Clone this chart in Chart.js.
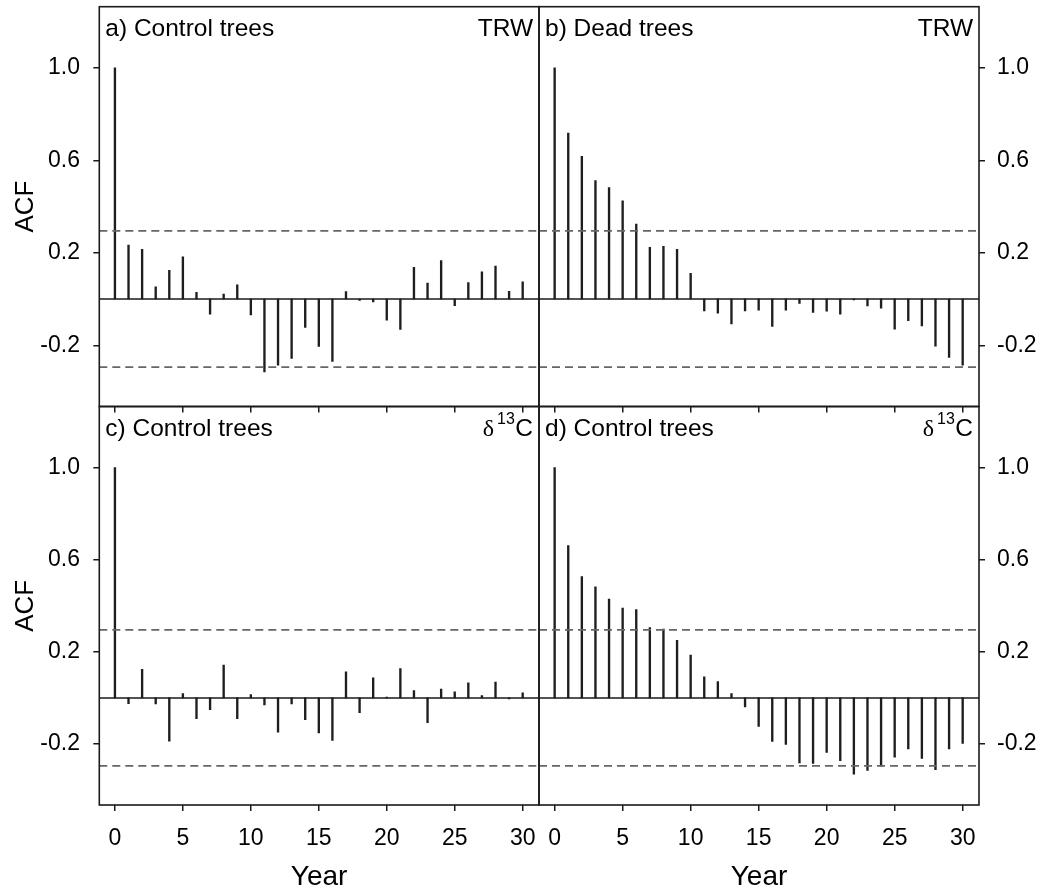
<!DOCTYPE html>
<html>
<head>
<meta charset="utf-8">
<title>ACF of TRW and d13C</title>
<script src="https://cdn.jsdelivr.net/npm/chart.js@4.4.1/dist/chart.umd.min.js"></script>
<style>
    html, body { margin: 0; padding: 0; background: #fff; }
    #wrap { position: relative; width: 1046px; height: 896px; overflow: hidden; }
    #wrap canvas { position: absolute; }
</style>
</head>
<body>
<div id="wrap">
    <canvas id="panel-a" width="545" height="420" style="left:0;top:0"></canvas>
    <canvas id="panel-b" width="511" height="420" style="left:535px;top:0"></canvas>
    <canvas id="panel-c" width="545" height="496" style="left:0;top:400px"></canvas>
    <canvas id="panel-d" width="511" height="496" style="left:535px;top:400px"></canvas>
</div>
<script>
(function() {
    'use strict';

    var lags = [0, 1, 2, 3, 4, 5, 6, 7, 8, 9, 10, 11, 12, 13, 14, 15,
                16, 17, 18, 19, 20, 21, 22, 23, 24, 25, 26, 27, 28, 29, 30];

    var acfControlTrw = [1.0, 0.234, 0.215, 0.053, 0.124, 0.183, 0.029, -0.065, 0.022, 0.061, -0.069,
                         -0.315, -0.286, -0.257, -0.123, -0.205, -0.270, 0.032, -0.006, -0.012, -0.091,
                         -0.131, 0.137, 0.069, 0.166, -0.029, 0.071, 0.118, 0.143, 0.033, 0.074];

    var acfDeadTrw = [1.0, 0.718, 0.618, 0.513, 0.482, 0.425, 0.324, 0.224, 0.228, 0.215, 0.111,
                      -0.051, -0.061, -0.108, -0.051, -0.048, -0.118, -0.048, -0.019, -0.058, -0.052,
                      -0.065, -0.004, -0.030, -0.039, -0.130, -0.094, -0.116, -0.204, -0.253, -0.286];

    var acfControlD13c = [1.0, -0.025, 0.124, -0.026, -0.188, 0.019, -0.090, -0.051, 0.142, -0.090, 0.014,
                          -0.030, -0.149, -0.026, -0.095, -0.152, -0.185, 0.113, -0.064, 0.087, 0.003,
                          0.127, 0.032, -0.108, 0.038, 0.026, 0.065, 0.010, 0.069, -0.004, 0.022];

    var acfControlD13cD = [1.0, 0.661, 0.527, 0.482, 0.429, 0.390, 0.383, 0.305, 0.299, 0.250, 0.186,
                           0.091, 0.071, 0.019, -0.039, -0.124, -0.189, -0.202, -0.282, -0.285, -0.237,
                           -0.273, -0.331, -0.315, -0.296, -0.257, -0.221, -0.263, -0.312, -0.221, -0.198];

    // 95% confidence limits
    var confLimits = [0.295, -0.295];

    var yTickValues = [-0.2, 0.2, 0.6, 1.0];
    var xTickValues = [0, 5, 10, 15, 20, 25, 30];

    var X_MIN = -1.15, X_MAX = 31.2;
    var Y_MIN = -0.465, Y_MAX = 1.265;

    var FONT = "'Liberation Sans', Arial, sans-serif";
    var INK = '#1a1a1a';

    // frame around the plot area plus the two captions in the top corners
    var panelDecor = {
        id: 'panelDecor',
        afterDatasetsDraw: function(chart, args, opts) {
            var a = chart.chartArea;
            var ctx = chart.ctx;
            var base = a.top + 29.5;
            var x;

            ctx.save();
            ctx.strokeStyle = INK;
            ctx.lineWidth = 1.6;
            ctx.strokeRect(a.left, a.top, a.right - a.left, a.bottom - a.top);

            ctx.fillStyle = '#000';
            ctx.textBaseline = 'alphabetic';
            ctx.font = '24.5px ' + FONT;
            ctx.textAlign = 'left';
            ctx.fillText(opts.title, a.left + 6, base);

            ctx.textAlign = 'right';
            x = a.right - 6;
            if (opts.variable === 'TRW') {
                ctx.fillText('TRW', x, base);
            } else {
                ctx.fillText('C', x, base);
                x -= ctx.measureText('C').width + 0.5;
                ctx.font = '16px ' + FONT;
                ctx.fillText('13', x, base - 12);
                x -= ctx.measureText('13').width + 3;
                ctx.font = '24px "Liberation Serif", serif';
                ctx.fillText('\u03b4', x, base);
            }
            ctx.restore();
        }
    };

    function hline(y, dashed) {
        return {
            type: 'line',
            data: [{ x: X_MIN, y: y }, { x: X_MAX, y: y }],
            borderColor: dashed ? '#666' : INK,
            borderWidth: dashed ? 1.7 : 1.5,
            borderDash: dashed ? [8, 5] : [],
            pointRadius: 0,
            order: 0
        };
    }

    function makePanel(canvasId, values, opts) {
        var canvas = document.getElementById(canvasId);
        var w = canvas.width, h = canvas.height;
        var isLeft = opts.side === 'left';
        var isBottom = opts.row === 'bottom';
        var cLeft = isLeft ? 0 : 535;
        var cTop = isBottom ? 400 : 0;
        var area = {
            left: isLeft ? 99.3 : 539,
            right: isLeft ? 539 : 979,
            top: isBottom ? 406.5 : 6.7,
            bottom: isBottom ? 805 : 406.5
        };

        var bars = lags.map(function(lag, i) {
            return { x: lag, y: values[i] };
        });

        return new Chart(canvas.getContext('2d'), {
            type: 'bar',
            data: {
                datasets: [
                    {
                        type: 'bar',
                        data: bars,
                        backgroundColor: '#1e1e1e',
                        borderWidth: 0,
                        barThickness: 1.7,
                        order: 2
                    },
                    hline(confLimits[0], true),
                    hline(confLimits[1], true),
                    hline(0, false)
                ]
            },
            options: {
                responsive: false,
                animation: false,
                events: [],
                layout: {
                    padding: {
                        left: isLeft ? 0 : area.left - cLeft,
                        right: isLeft ? (cLeft + w) - area.right : 0,
                        top: area.top - cTop,
                        bottom: 0
                    }
                },
                plugins: {
                    legend: { display: false },
                    tooltip: { enabled: false },
                    panelDecor: { title: opts.title, variable: opts.variable }
                },
                scales: {
                    x: {
                        type: 'linear',
                        min: X_MIN,
                        max: X_MAX,
                        offset: false,
                        afterBuildTicks: function(s) {
                            s.ticks = xTickValues.map(function(v) { return { value: v }; });
                        },
                        afterFit: function(s) {
                            s.height = h - (area.bottom - cTop);
                            s.paddingLeft = 0;
                            s.paddingRight = 0;
                        },
                        grid: {
                            offset: false,
                            drawOnChartArea: false,
                            drawTicks: true,
                            tickLength: 6,
                            color: INK,
                            lineWidth: 1.5
                        },
                        border: { display: false },
                        ticks: {
                            display: isBottom,
                            color: '#000',
                            font: { family: FONT, size: 23 },
                            padding: 14,
                            maxRotation: 0,
                            autoSkip: false
                        },
                        title: {
                            display: isBottom,
                            text: 'Year',
                            color: '#000',
                            font: { family: FONT, size: 28 },
                            padding: { top: 0, bottom: 2 }
                        }
                    },
                    y: {
                        type: 'linear',
                        position: opts.side,
                        min: Y_MIN,
                        max: Y_MAX,
                        afterBuildTicks: function(s) {
                            s.ticks = yTickValues.map(function(v) { return { value: v }; });
                        },
                        afterFit: function(s) {
                            s.width = isLeft ? area.left - cLeft : (cLeft + w) - area.right;
                            s.paddingTop = 0;
                            s.paddingBottom = 0;
                        },
                        grid: {
                            offset: false,
                            drawOnChartArea: false,
                            drawTicks: true,
                            tickLength: 6,
                            color: INK,
                            lineWidth: 1.5
                        },
                        border: { display: false },
                        ticks: {
                            color: '#000',
                            font: { family: FONT, size: 23 },
                            padding: isLeft ? 13.3 : 12,
                            callback: function(v) { return Number(v).toFixed(1); }
                        },
                        title: {
                            display: isLeft,
                            text: 'ACF',
                            color: '#000',
                            font: { family: FONT, size: 26 },
                            padding: { top: 10, bottom: 0 }
                        }
                    }
                }
            },
            plugins: [panelDecor]
        });
    }

    makePanel('panel-a', acfControlTrw, { side: 'left', row: 'top', title: 'a) Control trees', variable: 'TRW' });
    makePanel('panel-b', acfDeadTrw, { side: 'right', row: 'top', title: 'b) Dead trees', variable: 'TRW' });
    makePanel('panel-c', acfControlD13c, { side: 'left', row: 'bottom', title: 'c) Control trees', variable: 'd13C' });
    makePanel('panel-d', acfControlD13cD, { side: 'right', row: 'bottom', title: 'd) Control trees', variable: 'd13C' });
})();
</script>
</body>
</html>
